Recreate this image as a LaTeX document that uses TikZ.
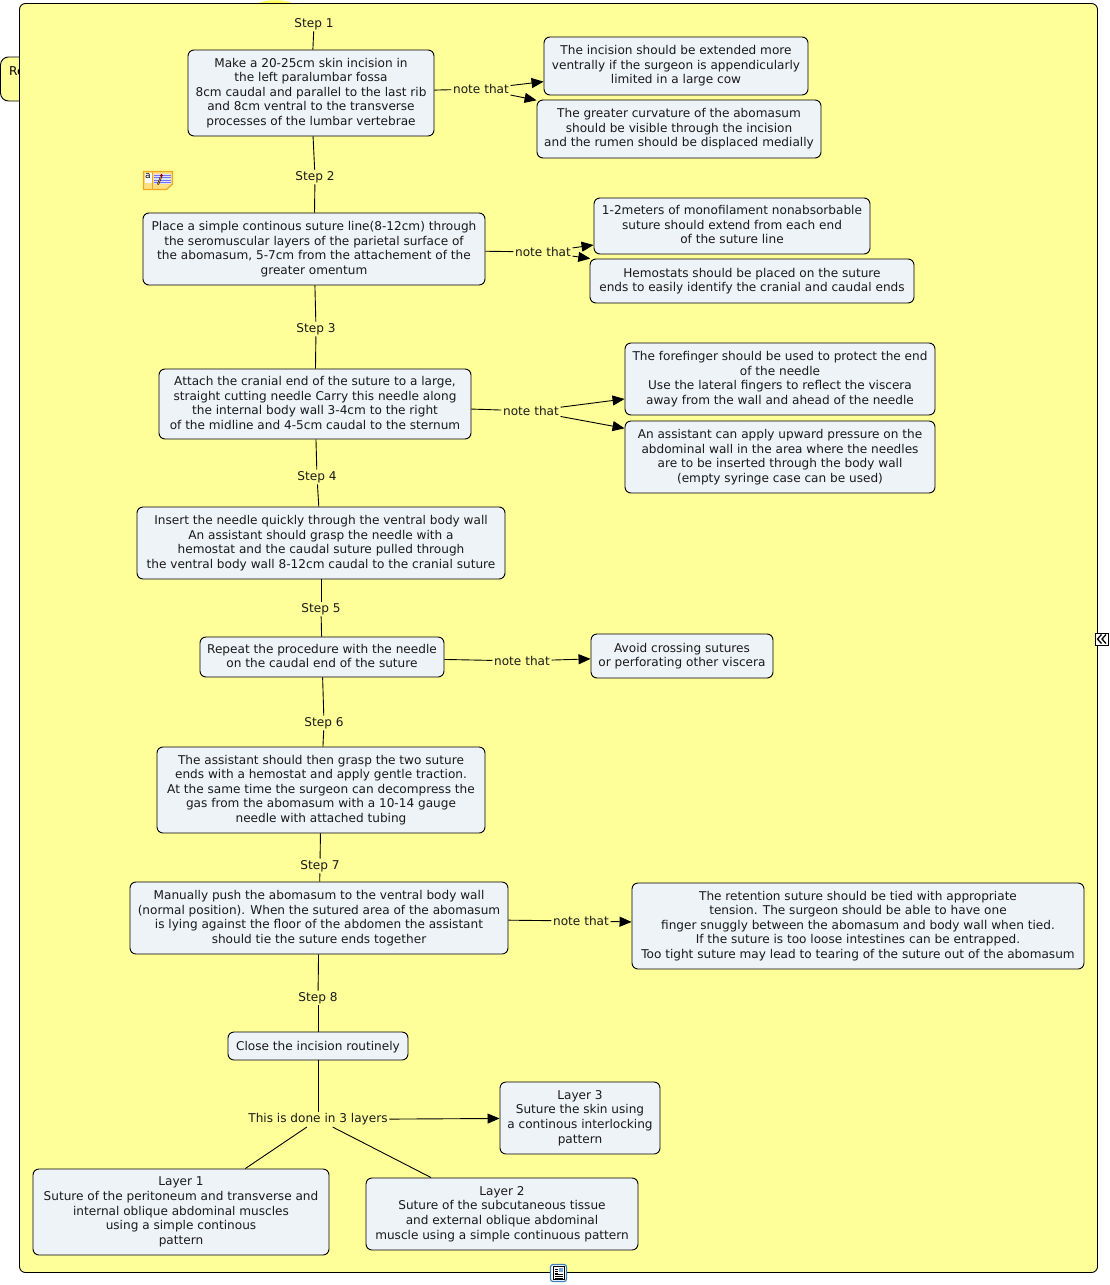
\documentclass[tikz,border=0pt]{standalone}
\usepackage{fontspec}
\setmainfont{DejaVu Sans}
\usetikzlibrary{arrows.meta}
\definecolor{framefill}{HTML}{FFFF99}
\definecolor{boxfill}{HTML}{EEF3F7}
\definecolor{bumpfill}{HTML}{FFFF55}
\definecolor{iconorange}{HTML}{EDA820}
\definecolor{iconpaper}{HTML}{FFDF80}
\definecolor{iconblue}{HTML}{3C7FC0}
\tikzset{
    conceptbox/.style={draw=black, fill=boxfill, rounded corners=6pt, line width=0.9pt,
        inner sep=0pt, align=center, font=\fontsize{12.1}{14.6}\selectfont, text=black!90,
        execute at begin node={\rule{0pt}{11pt}}, execute at end node={\rule[-2.6pt]{0pt}{2.6pt}}},
    linklabel/.style={inner sep=1.5pt, font=\fontsize{12.1}{14.6}\selectfont, text=black!90},
    plainlink/.style={line width=0.9pt},
    arrowlink/.style={line width=0.9pt, -{Triangle[length=12pt,width=10pt]}}
}
\begin{document}
\begin{tikzpicture}[x=1pt, y=-1pt]
    \useasboundingbox (0,0) rectangle (1110,1285);

    % 后面露出的部分
    \fill[bumpfill] (256,4) .. controls (265,-1) and (285,-1) .. (294,4) -- cycle;
    \draw[fill=framefill, rounded corners=8pt, line width=0.9pt] (0.5,57) rectangle (40,101);
    \node[anchor=west, inner sep=0pt, font=\fontsize{12.1}{14.6}\selectfont] (rootlabel) at (9,71) {Re};

    % 外框
    \draw[fill=framefill, rounded corners=6pt, line width=0.9pt] (19.5,3.5) rectangle (1097.5,1272.5);

    % 主线的方框
    \node[conceptbox, minimum width=246pt, minimum height=86pt] (make) at (311,93) {Make a 20-25cm skin incision in\\the left paralumbar fossa\\8cm caudal and parallel to the last rib\\and 8cm ventral to the transverse\\processes of the lumbar vertebrae};
    \node[conceptbox, minimum width=342pt, minimum height=72pt] (place) at (314,249) {Place a simple continous suture line(8-12cm) through\\the seromuscular layers of the parietal surface of\\the abomasum, 5-7cm from the attachement of the\\greater omentum};
    \node[conceptbox, minimum width=312pt, minimum height=70pt] (attach) at (315,404) {Attach the cranial end of the suture to a large,\\straight cutting needle Carry this needle along\\the internal body wall 3-4cm to the right\\of the midline and 4-5cm caudal to the sternum};
    \node[conceptbox, minimum width=368pt, minimum height=72pt] (insert) at (321,543) {Insert the needle quickly through the ventral body wall\\An assistant should grasp the needle with a\\hemostat and the caudal suture pulled through\\the ventral body wall 8-12cm caudal to the cranial suture};
    \node[conceptbox, minimum width=244pt, minimum height=40pt] (repeat) at (322,657) {Repeat the procedure with the needle\\on the caudal end of the suture};
    \node[conceptbox, minimum width=328pt, minimum height=86pt] (assistant) at (321,790) {The assistant should then grasp the two suture\\ends with a hemostat and apply gentle traction.\\At the same time the surgeon can decompress the\\gas from the abomasum with a 10-14 gauge\\needle with attached tubing};
    \node[conceptbox, minimum width=378pt, minimum height=72pt] (push) at (319,918) {Manually push the abomasum to the ventral body wall\\(normal position). When the sutured area of the abomasum\\is lying against the floor of the abdomen the assistant\\should tie the suture ends together};
    \node[conceptbox, minimum width=180pt, minimum height=28pt] (close) at (318,1046) {Close the incision routinely};

    % 右边的说明
    \node[conceptbox, minimum width=264pt, minimum height=58pt] (extend) at (676,66) {The incision should be extended more\\ventrally if the surgeon is appendicularly\\limited in a large cow};
    \node[conceptbox, minimum width=284pt, minimum height=58pt] (curvature) at (679,129) {The greater curvature of the abomasum\\should be visible through the incision\\and the rumen should be displaced medially};
    \node[conceptbox, minimum width=276pt, minimum height=56pt] (monofil) at (732,226) {1-2meters of monofilament nonabsorbable\\suture should extend from each end\\of the suture line};
    \node[conceptbox, minimum width=324pt, minimum height=44pt] (hemostats) at (752,281) {Hemostats should be placed on the suture\\ends to easily identify the cranial and caudal ends};
    \node[conceptbox, minimum width=310pt, minimum height=72pt] (forefinger) at (780,379) {The forefinger should be used to protect the end\\of the needle\\Use the lateral fingers to reflect the viscera\\away from the wall and ahead of the needle};
    \node[conceptbox, minimum width=310pt, minimum height=72pt] (pressure) at (780,457) {An assistant can apply upward pressure on the\\abdominal wall in the area where the needles\\are to be inserted through the body wall\\(empty syringe case can be used)};
    \node[conceptbox, minimum width=182pt, minimum height=44pt] (avoid) at (682,656) {Avoid crossing sutures\\or perforating other viscera};
    \node[conceptbox, minimum width=452pt, minimum height=86pt] (retention) at (858,926) {The retention suture should be tied with appropriate\\tension. The surgeon should be able to have one\\finger snuggly between the abomasum and body wall when tied.\\If the suture is too loose intestines can be entrapped.\\Too tight suture may lead to tearing of the suture out of the abomasum};

    % 三层缝合
    \node[conceptbox, minimum width=160pt, minimum height=72pt] (layerthree) at (580,1118) {Layer 3\\Suture the skin using\\a continous interlocking\\pattern};
    \node[conceptbox, minimum width=296pt, minimum height=86pt] (layerone) at (181,1212) {Layer 1\\Suture of the peritoneum and transverse and\\internal oblique abdominal muscles\\using a simple continous\\pattern};
    \node[conceptbox, minimum width=272pt, minimum height=72pt] (layertwo) at (502,1214) {Layer 2\\Suture of the subcutaneous tissue\\and external oblique abdominal\\muscle using a simple continuous pattern};

    % 连线上的文字
    \node[linklabel] (stepone) at (314,24) {Step 1};
    \node[linklabel] (steptwo) at (315,177) {Step 2};
    \node[linklabel] (stepthree) at (316,329) {Step 3};
    \node[linklabel] (stepfour) at (317,477) {Step 4};
    \node[linklabel] (stepfive) at (321,609) {Step 5};
    \node[linklabel] (stepsix) at (324,723) {Step 6};
    \node[linklabel] (stepseven) at (320,866) {Step 7};
    \node[linklabel] (stepeight) at (318,998) {Step 8};
    \node[linklabel] (noteone) at (481,89) {note that};
    \node[linklabel] (notetwo) at (543,252) {note that};
    \node[linklabel] (notethree) at (531,411) {note that};
    \node[linklabel] (notefour) at (522,661) {note that};
    \node[linklabel] (notefive) at (581,921) {note that};
    \node[linklabel] (layers) at (318,1119.5) {This is done in 3 layers};

    % 主线
    \draw[plainlink] (stepone) -- (make);
    \draw[plainlink] (make) -- (steptwo);
    \draw[plainlink] (steptwo) -- (place);
    \draw[plainlink] (place) -- (stepthree);
    \draw[plainlink] (stepthree) -- (attach);
    \draw[plainlink] (attach) -- (stepfour);
    \draw[plainlink] (stepfour) -- (insert);
    \draw[plainlink] (insert) -- (stepfive);
    \draw[plainlink] (stepfive) -- (repeat);
    \draw[plainlink] (repeat) -- (stepsix);
    \draw[plainlink] (stepsix) -- (assistant);
    \draw[plainlink] (assistant) -- (stepseven);
    \draw[plainlink] (stepseven) -- (push);
    \draw[plainlink] (push) -- (stepeight);
    \draw[plainlink] (stepeight) -- (close);
    \draw[plainlink] (close) -- (layers);

    % 说明的箭头
    \draw[plainlink] (make) -- (noteone);
    \draw[arrowlink] (noteone) -- (extend);
    \draw[arrowlink] (noteone) -- (curvature);
    \draw[plainlink] (place) -- (notetwo);
    \draw[arrowlink] (notetwo) -- (monofil);
    \draw[arrowlink] (notetwo) -- (hemostats);
    \draw[plainlink] (attach) -- (notethree);
    \draw[arrowlink] (notethree) -- (forefinger);
    \draw[arrowlink] (notethree) -- (pressure);
    \draw[plainlink] (repeat) -- (notefour);
    \draw[arrowlink] (notefour) -- (avoid);
    \draw[plainlink] (push) -- (notefive);
    \draw[arrowlink] (notefive) -- (retention);
    \draw[arrowlink] (layers) -- (layerthree);
    \draw[plainlink] (layers) -- (layerone);
    \draw[plainlink] (layers) -- (layertwo);

    % 便签图标
    \draw[iconorange, fill=iconpaper, line width=1.2pt] (143.5,171.5) -- (172.5,171.5) -- (172.5,184) -- (166.5,189.5) -- (143.5,189.5) -- cycle;
    \draw[iconorange, line width=0.7pt] (152,172) -- (152,189);
    \fill[white] (144.5,172.5) rectangle (151.5,183);
    \node[inner sep=0pt, font=\fontsize{9}{9}\selectfont] (iconletter) at (148,176.5) {a};
    \fill[blue!12] (153.5,174) rectangle (171,184);
    \foreach \y in {175,177.5,180,182.5}
        \draw[blue!55, line width=0.5pt] (153.5,\y) -- (171,\y);
    \draw[black, line width=1.8pt] (158,184.5) -- (161,177);
    \draw[iconorange, line width=0.8pt] (158,184.5) -- (161,177);
    \fill[red!60!black] (161.5,175.5) circle (1.6pt);

    % 折叠按钮
    \draw[black, fill=white, line width=0.9pt] (1095.5,633) rectangle (1108,645);
    \draw[line width=1.3pt] (1101.5,634.5) -- (1097.5,639) -- (1101.5,643.5);
    \draw[line width=1.3pt] (1106,634.5) -- (1102,639) -- (1106,643.5);

    % 底部图标
    \draw[iconblue, fill=white, rounded corners=2.5pt, line width=1.2pt] (550.5,1264.5) rectangle (566.5,1281.5);
    \draw[black, fill=white, line width=0.7pt] (553,1266.5) rectangle (564,1279.5);
    \fill[iconblue!70] (559,1268) rectangle (563,1272);
    \foreach \y in {1269,1271,1273}
        \draw[black, line width=0.5pt] (554.5,\y) -- (558,\y);
    \foreach \y in {1274.5,1276.5,1278}
        \draw[black, line width=0.5pt] (554.5,\y) -- (562.5,\y);
\end{tikzpicture}
\end{document}
